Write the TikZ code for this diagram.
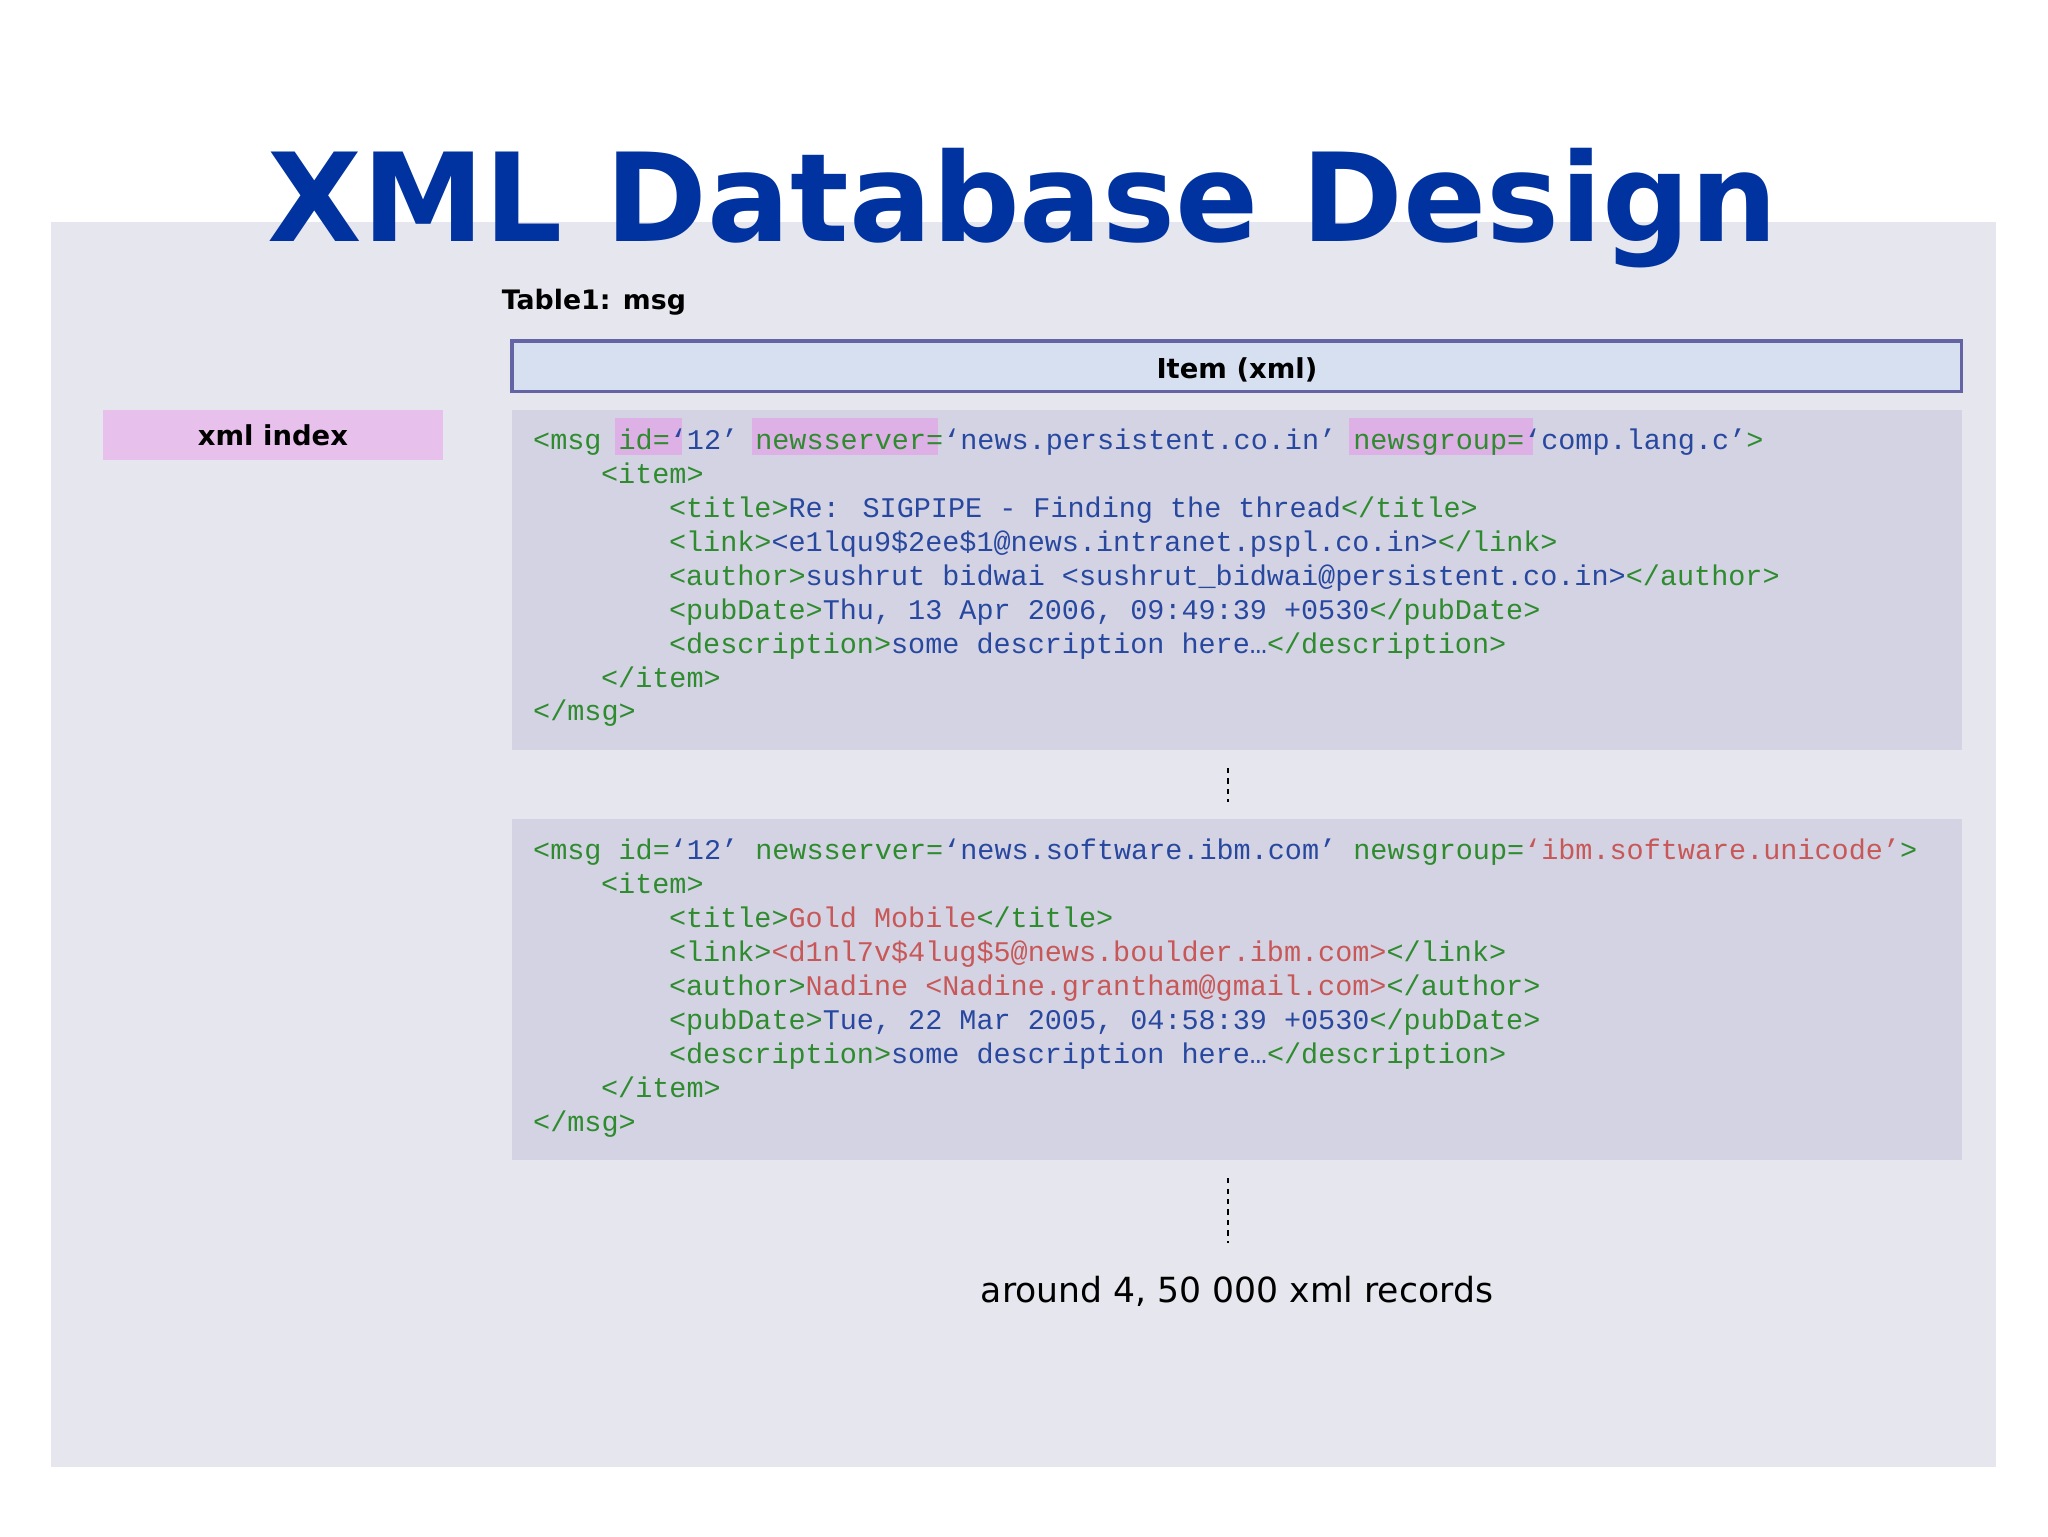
\documentclass[tikz,border=0pt]{standalone}
\usepackage{fontspec}
\setmainfont{DejaVu Sans}
\newfontfamily\codefont{Liberation Mono}
\definecolor{bgc}{HTML}{E6E6EE}
\definecolor{codebg}{HTML}{D3D3E3}
\definecolor{hdrfill}{HTML}{D6E0F0}
\definecolor{hdrline}{HTML}{6464A4}
\definecolor{idxfill}{HTML}{E8C0EC}
\definecolor{hl}{HTML}{DDB0E6}
\definecolor{titlec}{HTML}{0033A0}
\definecolor{tg}{HTML}{2E8B2E}
\definecolor{tb}{HTML}{2848A0}
\definecolor{tr}{HTML}{C85858}
\newcommand{\G}[1]{\textcolor{tg}{#1}}
\newcommand{\B}[1]{\textcolor{tb}{#1}}
\newcommand{\R}[1]{\textcolor{tr}{#1}}
\tikzset{
 code/.style={anchor=base west,inner sep=0pt,font=\codefont\fontsize{21.8}{24}\selectfont},
 dots/.style={dashed,line width=1.2pt,dash pattern=on 4pt off 4pt},
}
\begin{document}
\begin{tikzpicture}[x=1pt,y=-1pt]
\useasboundingbox (0,0) rectangle (1568,1176);
\fill[white] (0,0) rectangle (1568,1176);
\fill[bgc] (39,170) rectangle (1528,1123);
\node[anchor=base,inner sep=0pt,text=titlec,font=\bfseries\fontsize{94}{104}\selectfont] (title) at (783,185) {XML Database Design};
\node[anchor=base west,inner sep=0pt,font=\bfseries\fontsize{20.5}{24}\selectfont] (tab) at (384,237) {Table1: msg};
\node[draw=hdrline,line width=2.5pt,fill=hdrfill,minimum width=1110,minimum height=39,inner sep=0pt] (hdr) at (947,280.5) {};
\node[anchor=base,inner sep=0pt,font=\bfseries\fontsize{21}{24}\selectfont] (hdrt) at (947,290) {Item (xml)};
\node[fill=idxfill,minimum width=260,minimum height=38,inner sep=0pt] (idx) at (209,333) {};
\node[anchor=base,inner sep=0pt,font=\bfseries\fontsize{21}{24}\selectfont] (idxt) at (209,341) {xml index};
\fill[codebg] (392,314) rectangle (1502,574);
\fill[codebg] (392,627) rectangle (1502,888);
\fill[hl] (471,320) rectangle (522,348);
\fill[hl] (576,320) rectangle (718,348);
\fill[hl] (1033,320) rectangle (1174,348);
% block 1
\node[code] (a1) at (408,344) {\G{<msg id=}\B{‘12’} \G{newsserver=}\B{‘news.persistent.co.in’} \G{newsgroup=}\B{‘comp.lang.c’}\G{>}};
\node[code] (a2) at (460,370) {\G{<item>}};
\node[code] (a3) at (512,396) {\G{<title>}\B{Re: SIGPIPE - Finding the thread}\G{</title>}};
\node[code] (a4) at (512,422) {\G{<link>}\B{<e1lqu9\$2ee\$1@news.intranet.pspl.co.in>}\G{</link>}};
\node[code] (a5) at (512,448) {\G{<author>}\B{sushrut bidwai <sushrut\_bidwai@persistent.co.in>}\G{</author>}};
\node[code] (a6) at (512,474) {\G{<pubDate>}\B{Thu, 13 Apr 2006, 09:49:39 +0530}\G{</pubDate>}};
\node[code] (a7) at (512,500) {\G{<description>}\B{some description here…}\G{</description>}};
\node[code] (a8) at (460,526) {\G{</item>}};
\node[code] (a9) at (408,552) {\G{</msg>}};
% block 2
\node[code] (b1) at (408,658) {\G{<msg id=}\B{‘12’} \G{newsserver=}\B{‘news.software.ibm.com’} \G{newsgroup=}\R{‘ibm.software.unicode’}\G{>}};
\node[code] (b2) at (460,684) {\G{<item>}};
\node[code] (b3) at (512,710) {\G{<title>}\R{Gold Mobile}\G{</title>}};
\node[code] (b4) at (512,736) {\G{<link>}\R{<d1nl7v\$4lug\$5@news.boulder.ibm.com>}\G{</link>}};
\node[code] (b5) at (512,762) {\G{<author>}\R{Nadine <Nadine.grantham@gmail.com>}\G{</author>}};
\node[code] (b6) at (512,788) {\G{<pubDate>}\B{Tue, 22 Mar 2005, 04:58:39 +0530}\G{</pubDate>}};
\node[code] (b7) at (512,814) {\G{<description>}\B{some description here…}\G{</description>}};
\node[code] (b8) at (460,840) {\G{</item>}};
\node[code] (b9) at (408,866) {\G{</msg>}};
\coordinate (d1a) at (940,588); \coordinate (d1b) at (940,614);
\coordinate (d2a) at (940,902); \coordinate (d2b) at (940,952);
\draw[dots] (d1a) -- (d1b);
\draw[dots] (d2a) -- (d2b);
\node[anchor=base,inner sep=0pt,font=\fontsize{26.5}{30}\selectfont] (rec) at (947,997) {around 4, 50 000 xml records};
\end{tikzpicture}
\end{document}
